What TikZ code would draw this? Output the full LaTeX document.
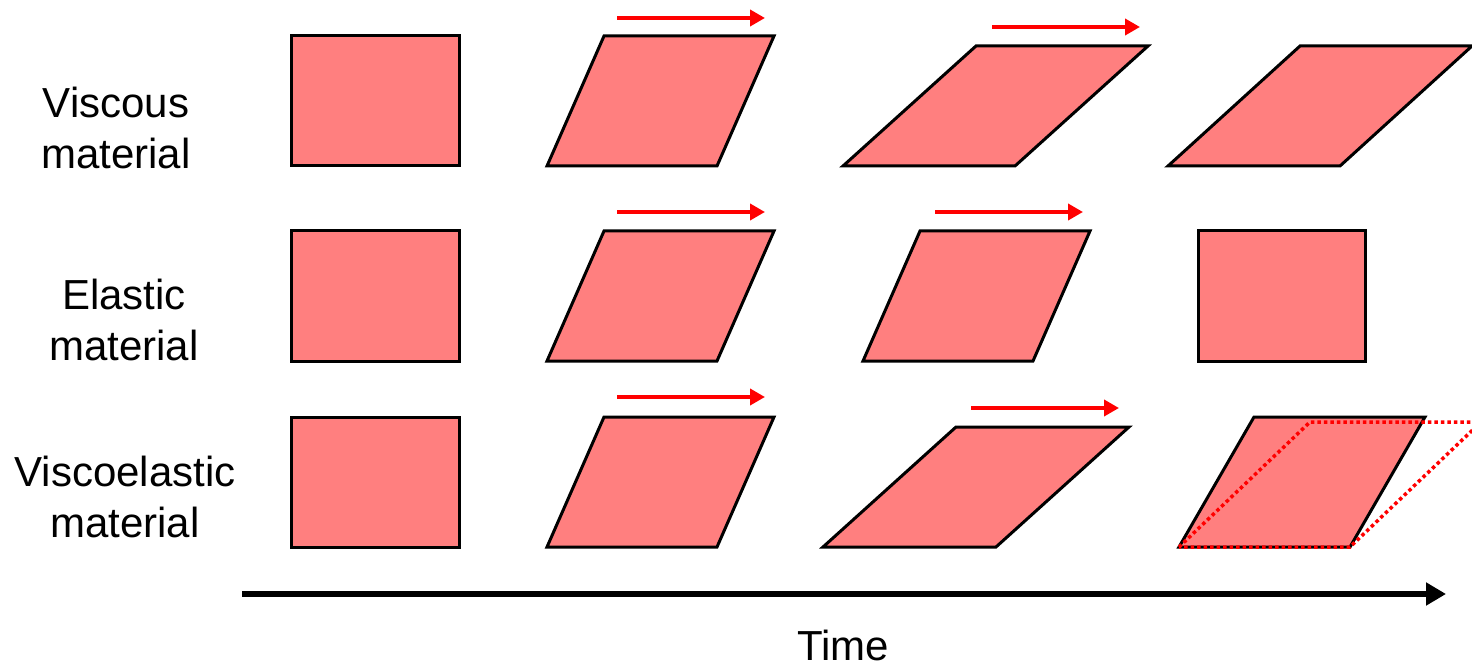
\documentclass[tikz,border=0pt]{standalone}
\usepackage{fontspec}
\setmainfont{Liberation Sans}
\usetikzlibrary{arrows.meta}
\definecolor{boxfill}{RGB}{255,127,127}
\definecolor{pushred}{RGB}{255,0,0}
\tikzset{
  shapebox/.style={fill=boxfill,draw=black,line width=3pt,line join=miter},
  push/.style={draw=pushred,line width=4pt,-{Triangle[length=15pt,width=16pt]}},
  timeline/.style={draw=black,line width=6pt,-{Triangle[length=20pt,width=22pt]}},
  ghost/.style={draw=pushred,line width=3.5pt,dash pattern=on 3.5pt off 3pt},
  lbl/.style={font=\fontsize{42}{51}\selectfont,align=center,inner sep=0pt}
}
\newcommand{\parabox}[5]{% tlx, ty, blx, by, width
  \draw[shapebox] (#1,#2) -- ({#1+#5},#2) -- ({#3+#5},#4) -- (#3,#4) -- cycle;}
\begin{document}
\begin{tikzpicture}[x=1pt,y=-1pt]
\useasboundingbox (0,0) rectangle (1472,668);
\begin{scope}
\clip (0,0) rectangle (1472,668);
% labels
\node[lbl] (lv) at (116,128) {Viscous\\material};
\node[lbl] (le) at (124,320) {Elastic\\material};
\node[lbl] (lve) at (125,497) {Viscoelastic\\material};
% row 1
\parabox{291}{36}{291}{166}{168}
\parabox{604}{36}{547}{166}{170}
\parabox{976}{46}{843}{166}{172}
\parabox{1300}{46}{1168}{166}{172}
\coordinate (a1s) at (617,18); \coordinate (a1e) at (765,18);
\draw[push] (a1s) -- (a1e);
\coordinate (a2s) at (992,27); \coordinate (a2e) at (1140,27);
\draw[push] (a2s) -- (a2e);
% row 2
\parabox{291}{231}{291}{361}{168}
\parabox{604}{231}{547}{361}{170}
\parabox{920}{231}{863}{361}{170}
\parabox{1198}{231}{1198}{361}{167}
\coordinate (b1s) at (617,212); \coordinate (b1e) at (765,212);
\draw[push] (b1s) -- (b1e);
\coordinate (b2s) at (935,212); \coordinate (b2e) at (1083,212);
\draw[push] (b2s) -- (b2e);
% row 3
\parabox{291}{417}{291}{547}{168}
\parabox{604}{417}{547}{547}{170}
\parabox{956}{427}{823}{547}{173}
\parabox{1254}{417}{1179}{547}{171}
\draw[ghost] (1179,547) -- (1310,422) -- (1481,422) -- (1350,547) -- cycle;
\coordinate (c1s) at (617,397); \coordinate (c1e) at (765,397);
\draw[push] (c1s) -- (c1e);
\coordinate (c2s) at (971,408); \coordinate (c2e) at (1119,408);
\draw[push] (c2s) -- (c2e);
% time axis
\coordinate (ts) at (242,594); \coordinate (te) at (1446,594);
\draw[timeline] (ts) -- (te);
\node[lbl] (time) at (843,645) {Time};
\end{scope}
\end{tikzpicture}
\end{document}
